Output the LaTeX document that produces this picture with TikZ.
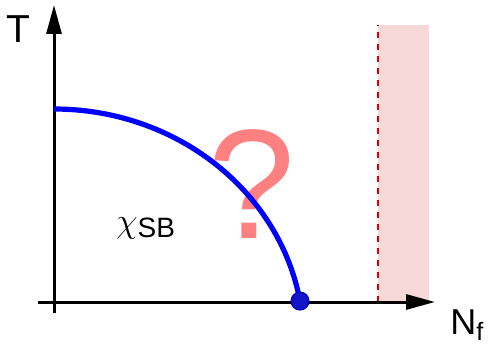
\documentclass[tikz,border=0pt]{standalone}
\usepackage{fontspec}
\setmainfont{Liberation Sans}
\usetikzlibrary{arrows.meta}

\definecolor{bandpink}{HTML}{F7D8D9}
\definecolor{qpink}{HTML}{FF8080}
\definecolor{dotblue}{HTML}{1414C8}

\begin{document}
\begin{tikzpicture}[x=0.5pt, y=0.5pt,
	axis/.style={line width=1.5pt, black, -{Triangle[length=14.5pt, width=7.5pt]}},
	label/.style={inner sep=0pt}]
	\useasboundingbox (0,0) rectangle (488,349);
	\coordinate (o) at (54,47);
	\coordinate (xstart) at (38,47);
	\coordinate (xend) at (435,47);
	\coordinate (ystart) at (54,36);
	\coordinate (yend) at (54,344);
	\coordinate (tc) at (54,240);
	\coordinate (bandlo) at (378,47);
	\coordinate (bandhi) at (429,324);
	\coordinate (dashtop) at (378,324);

	% region beyond the critical flavour number
	\fill [bandpink] (bandlo) rectangle (bandhi);
	\draw [red!85!black, line width=0.8pt, dash pattern=on 3pt off 3pt] (bandlo) -- (dashtop);

	\node [label, text=qpink, font=\fontsize{78}{80}\selectfont] (q) at (252,164.5) {?};

	\draw [axis] (xstart) -- (xend);
	\draw [axis] (ystart) -- (yend);

	% phase boundary
	\draw [blue, line width=2.6pt] (tc) arc [start angle=90, end angle=10,
		x radius=249.8, y radius=232.4] coordinate (end);
	\filldraw [fill=dotblue, draw=blue!80!black, line width=0.5pt] (end) circle (9);

	\node [label, font=\fontsize{19.5}{22}\selectfont] (T) at (18,320) {T};
	\node [label, font=\fontsize{18}{20}\selectfont, anchor=west] (N) at (450,24) {N\textsubscript{f}};
	\node [label, font=\fontsize{14}{16}\selectfont, anchor=base west] (chi) at (116,112)
		{\raisebox{2.2pt}{\fontsize{16}{18}\selectfont$\chi$}SB};
\end{tikzpicture}
\end{document}
